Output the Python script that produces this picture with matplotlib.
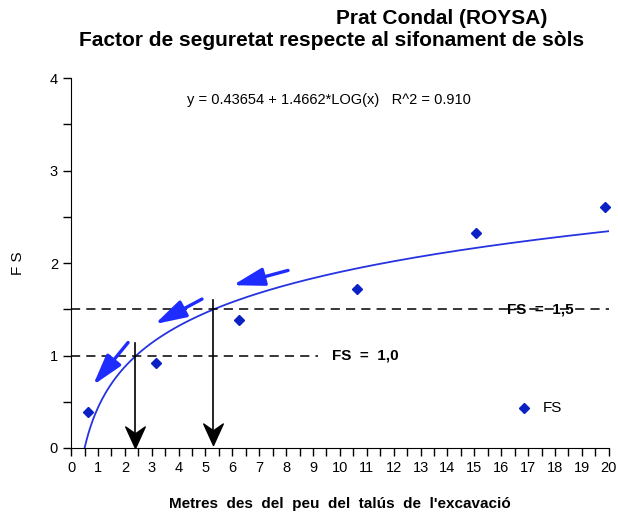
import numpy as np
import matplotlib.pyplot as plt
from matplotlib.path import Path
from matplotlib.ticker import MultipleLocator

plt.rcParams['font.family'] = ['Liberation Sans', 'DejaVu Sans']

# mesures FS
dist = [0.63, 3.16, 6.25, 10.63, 15.06, 19.85]
fs = [0.39, 0.92, 1.38, 1.72, 2.32, 2.61]

# ajust logaritmic
a_fit = 0.43654
b_fit = 1.4662
r2 = 0.910

x_fs10 = 10 ** ((1.0 - a_fit) / b_fit)
x_fs15 = 10 ** ((1.5 - a_fit) / b_fit)

blue_arrows = [((8.07, 1.92), (6.02, 1.76)),
               ((4.87, 1.61), (3.12, 1.34)),
               ((2.12, 1.14), (0.82, 0.68))]

# punta de fletxa negra (cap avall, punta a l'origen)
chevron = Path([(0, 0), (-0.5, 1.1), (0, 0.75), (0.5, 1.1), (0, 0)],
               [Path.MOVETO, Path.LINETO, Path.LINETO, Path.LINETO, Path.CLOSEPOLY])


def main():
    fig = plt.figure(figsize=(6.18, 5.17), dpi=100)
    ax = fig.add_axes([0.115, 0.1335, 0.870, 0.7155])

    x0 = 10 ** (-a_fit / b_fit)
    x = np.linspace(x0, 20, 300)
    ax.plot(x, a_fit + b_fit * np.log10(x), color='#2633e0', lw=1.3)

    ax.plot(dist, fs, 'D', color='#0a22c4', ms=5.5, clip_on=False)

    ax.plot([0, 20], [1.5, 1.5], 'k--', lw=1.1, dashes=(6, 4))
    ax.plot([0, 9.2], [1.0, 1.0], 'k--', lw=1.1, dashes=(6, 4))
    ax.text(9.7, 1.0, 'FS  =  1,0', fontsize=11, fontweight='bold', va='center')
    ax.text(16.2, 1.5, 'FS  =  1,5', fontsize=11, fontweight='bold', va='center')

    for tail, tip in blue_arrows:
        ax.annotate('', xy=tip, xytext=tail,
                    arrowprops=dict(arrowstyle='-|>,head_length=1.9,head_width=0.55',
                                    color='#1f2cff', lw=2.4, shrinkA=0, shrinkB=0))

    for xa, y_top, y_tip in [(x_fs10 - 0.05, 1.13, 0.0), (x_fs15 - 0.05, 1.6, 0.03)]:
        ax.plot([xa, xa], [y_top, y_tip + 0.08], color='k', lw=1.2)
        ax.plot([xa], [y_tip], marker=chevron, ms=31, color='k', clip_on=False)

    ax.plot([16.84], [0.43], 'D', color='#0a22c4', ms=5.5)
    ax.text(17.55, 0.43, 'FS', fontsize=11, va='center')

    ax.text(9.6, 3.76, 'y = 0.43654 + 1.4662*LOG(x)   R^2 = %.3f' % r2,
            fontsize=10.5, ha='center', va='center')

    ax.set_xlim(0, 20)
    ax.set_ylim(0, 4)
    ax.spines['top'].set_visible(False)
    ax.spines['right'].set_visible(False)
    ax.xaxis.set_major_locator(MultipleLocator(1))
    ax.xaxis.set_minor_locator(MultipleLocator(0.5))
    ax.yaxis.set_major_locator(MultipleLocator(1))
    ax.yaxis.set_minor_locator(MultipleLocator(0.5))
    ax.tick_params(which='both', direction='out', length=6, width=1, labelsize=10.5)

    ax.set_ylabel('F S', fontsize=11, labelpad=18)
    ax.set_xlabel("Metres  des  del  peu  del  talús  de  l'excavació",
                  fontsize=11, fontweight='bold', labelpad=16)

    fig.text(0.714, 0.965, 'Prat Condal (ROYSA)', fontsize=15,
             fontweight='bold', ha='center', va='center')
    fig.text(0.536, 0.922, 'Factor de seguretat respecte al sifonament de sòls',
             fontsize=15, fontweight='bold', ha='center', va='center')

    fig.savefig('out.png', dpi=100)


if __name__ == "__main__":
    main()
